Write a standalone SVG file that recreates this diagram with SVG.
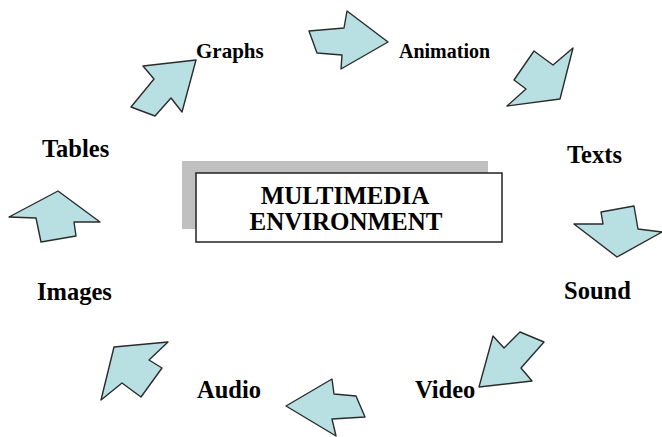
<svg xmlns="http://www.w3.org/2000/svg" width="662" height="437" viewBox="0 0 662 437">
<style>
.arrow{fill:#b8dfe1;stroke:#2b2b2b;stroke-width:1.4;stroke-linejoin:round}
.lbl{font-family:"Liberation Serif","Times New Roman",serif;font-weight:bold;font-size:24.5px;fill:#000}
.big{font-size:25px}
.sm{font-size:21px}
.sm2{font-size:20px}
</style>
<rect width="662" height="437" fill="#fff"/>
<g id="center">
<rect x="182" y="161" width="306" height="68" fill="#c0c0c0"/>
<rect x="196" y="173" width="306" height="69" fill="#fff" stroke="#222" stroke-width="1.5"/>
<text class="lbl big" x="345" y="204" text-anchor="middle">MULTIMEDIA</text>
<text class="lbl big" x="346" y="230" text-anchor="middle">ENVIRONMENT</text>
</g>
<g id="n-graphs"><text class="lbl sm" x="196" y="58">Graphs</text></g>
<g id="n-animation"><text class="lbl sm2" x="399" y="58">Animation</text></g>
<g id="n-texts"><text class="lbl" x="567" y="163">Texts</text></g>
<g id="n-sound"><text class="lbl" x="564" y="299">Sound</text></g>
<g id="n-video"><text class="lbl" x="415" y="398">Video</text></g>
<g id="n-audio"><text class="lbl" x="197" y="398">Audio</text></g>
<g id="n-images"><text class="lbl" x="37" y="300">Images</text></g>
<g id="n-tables"><text class="lbl" x="42" y="157">Tables</text></g>
<g id="connectors">
<polygon class="arrow" points="196,60 143,66 154,79 131,107 155,116 171,98 182,112"/>
<polygon class="arrow" points="309,31 344,28 347,11 388,42 341,69 342,55 317,53"/>
<polygon class="arrow" points="507,106 560,99 573,48 553,65 534,51 514,80 526,89"/>
<polygon class="arrow" points="601,212 634,206 638,229 662,232 617,257 574,224 603,224"/>
<polygon class="arrow" points="479,387 532,381 521,368 544,342 520,332 504,348 493,336"/>
<polygon class="arrow" points="286,406 332,379 334,394 356,396 365,417 332,419 336,436"/>
<polygon class="arrow" points="101,400 114,347 168,342 149,360 162,368 141,397 122,383"/>
<polygon class="arrow" points="9,217 58,191 100,222 74,222 76,236 41,242 36,218"/>
</g>
</svg>
